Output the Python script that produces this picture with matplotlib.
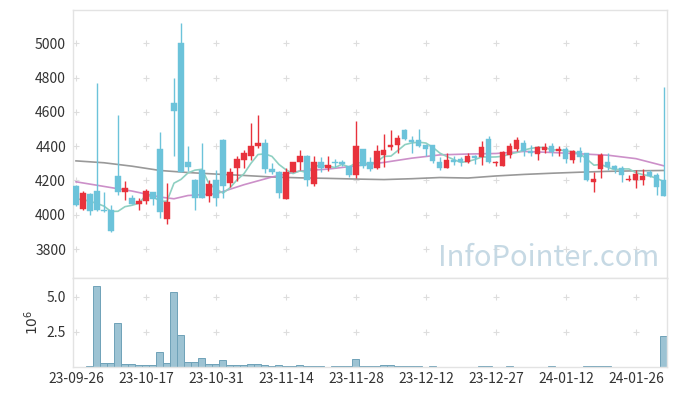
import matplotlib
matplotlib.use("Agg")
import matplotlib.pyplot as plt
import numpy as np

plt.rcParams["font.family"] = ["Noto Sans CJK KR", "DejaVu Sans"]

# daily OHLC, 85 trading days (23-09-26 .. 24-01-29)
OPEN = [4169, 4033, 4122, 4140, 4030, 4025, 4227, 4133, 4099, 4060,
        4078, 4132, 4384, 3977, 4651, 5000, 4307, 4204, 4262, 4110,
        4204, 4437, 4185, 4275, 4320, 4340, 4400, 4418, 4268, 4252,
        4091, 4250, 4305, 4345, 4178, 4307, 4270, 4307, 4310, 4282,
        4229, 4384, 4307, 4270, 4350, 4397, 4404, 4495, 4437, 4437,
        4404, 4404, 4305, 4275, 4318, 4324, 4305, 4344, 4336, 4441,
        4301, 4287, 4350, 4385, 4421, 4369, 4355, 4378, 4402, 4370,
        4383, 4320, 4369, 4359, 4188, 4268, 4310, 4285, 4272, 4200,
        4204, 4204, 4252, 4233, 4204]
HIGH = [4175, 4140, 4125, 4768, 4132, 4055, 4582, 4195, 4115, 4100,
        4150, 4135, 4485, 4184, 4796, 5117, 4400, 4206, 4418, 4204,
        4262, 4440, 4273, 4344, 4378, 4536, 4582, 4441, 4300, 4256,
        4270, 4310, 4376, 4348, 4340, 4338, 4342, 4324, 4320, 4287,
        4546, 4386, 4339, 4408, 4472, 4495, 4466, 4497, 4460, 4499,
        4408, 4406, 4335, 4361, 4340, 4336, 4359, 4348, 4427, 4460,
        4312, 4374, 4416, 4453, 4433, 4408, 4402, 4418, 4418, 4402,
        4394, 4378, 4396, 4362, 4250, 4358, 4361, 4291, 4286, 4233,
        4260, 4266, 4262, 4241, 4744]
LOW = [4052, 4030, 4000, 4020, 4013, 3900, 4114, 4085, 4062, 4030,
       4064, 4058, 3980, 3946, 4340, 4250, 4255, 4029, 4095, 4077,
       4049, 4097, 4161, 4195, 4272, 4320, 4392, 4243, 4240, 4097,
       4091, 4248, 4260, 4165, 4165, 4252, 4254, 4281, 4287, 4219,
       4214, 4270, 4255, 4268, 4276, 4378, 4360, 4437, 4360, 4396,
       4340, 4301, 4258, 4273, 4289, 4282, 4303, 4298, 4291, 4303,
       4287, 4285, 4330, 4369, 4340, 4344, 4320, 4361, 4344, 4344,
       4303, 4301, 4308, 4198, 4130, 4212, 4259, 4243, 4190, 4198,
       4155, 4171, 4222, 4116, 4108]
CLOSE = [4058, 4126, 4019, 4025, 4022, 3903, 4130, 4155, 4064, 4081,
         4138, 4093, 4013, 4072, 4602, 4252, 4281, 4095, 4097, 4180,
         4095, 4165, 4250, 4325, 4360, 4402, 4418, 4268, 4250, 4126,
         4250, 4307, 4345, 4204, 4308, 4270, 4292, 4301, 4297, 4229,
         4398, 4283, 4268, 4373, 4378, 4409, 4447, 4439, 4424, 4398,
         4384, 4316, 4275, 4320, 4310, 4305, 4344, 4330, 4395, 4305,
         4310, 4363, 4402, 4437, 4374, 4359, 4394, 4394, 4363, 4383,
         4326, 4369, 4339, 4200, 4210, 4349, 4281, 4268, 4229, 4210,
         4239, 4223, 4223, 4163, 4110]
# volume in millions of shares
VOLUME = [0.01, 0.01, 0.07, 5.76, 0.28, 0.28, 3.10, 0.21, 0.21, 0.14,
          0.14, 0.14, 1.06, 0.28, 5.31, 2.27, 0.35, 0.35, 0.64, 0.21,
          0.21, 0.52, 0.14, 0.14, 0.14, 0.21, 0.21, 0.14, 0.07, 0.14,
          0.07, 0.07, 0.14, 0.07, 0.07, 0.07, 0.01, 0.04, 0.04, 0.04,
          0.57, 0.04, 0.04, 0.04, 0.14, 0.14, 0.04, 0.04, 0.04, 0.04,
          0.01, 0.04, 0.01, 0.01, 0.01, 0.01, 0.01, 0.01, 0.04, 0.04,
          0.01, 0.01, 0.04, 0.01, 0.01, 0.01, 0.01, 0.01, 0.04, 0.01,
          0.01, 0.01, 0.01, 0.04, 0.04, 0.04, 0.04, 0.01, 0.01, 0.01,
          0.01, 0.01, 0.01, 0.01, 2.22]

# moving averages
MA5 = [4092, 4088, 4078, 4066, 4050, 4019, 4020, 4047, 4055, 4067,
       4114, 4106, 4078, 4079, 4184, 4206, 4244, 4260, 4265, 4181,
       4150, 4126, 4157, 4203, 4239, 4300, 4351, 4355, 4340, 4293,
       4262, 4240, 4256, 4246, 4283, 4287, 4284, 4275, 4294, 4278,
       4303, 4302, 4295, 4310, 4340, 4342, 4375, 4409, 4419, 4423,
       4418, 4392, 4359, 4339, 4321, 4305, 4311, 4322, 4337, 4336,
       4337, 4341, 4355, 4363, 4377, 4387, 4393, 4392, 4377, 4379,
       4372, 4367, 4356, 4323, 4289, 4293, 4276, 4262, 4267, 4267,
       4245, 4234, 4225, 4212, 4192]
MA20_DAY = [0, 4, 8, 12, 14, 16, 20, 24, 28, 32, 36, 40, 44, 48, 52, 56, 60, 64, 68, 72, 76, 80, 84]
MA20 = [4192, 4165, 4138, 4103, 4093, 4112, 4122, 4175, 4220, 4255, 4266, 4285,
        4305, 4330, 4349, 4354, 4357, 4369, 4363, 4355, 4347, 4327, 4285]
MA60_DAY = [0, 4, 8, 12, 16, 20, 24, 28, 32, 36, 40, 44, 48, 52, 56, 60, 64, 68, 72, 76, 80, 84]
MA60 = [4314, 4303, 4283, 4258, 4246, 4237, 4229, 4220, 4215, 4212, 4208, 4205,
        4210, 4217, 4214, 4226, 4235, 4242, 4248, 4253, 4256, 4258]

TICK_DAY = [0, 10, 20, 30, 40, 50, 60, 70, 80]
TICK_LABEL = ["23-09-26", "23-10-17", "23-10-31", "23-11-14", "23-11-28",
              "23-12-12", "23-12-27", "24-01-12", "24-01-26"]
PRICE_TICKS = [3800, 4000, 4200, 4400, 4600, 4800, 5000]
VOL_TICKS = [2.5, 5.0]

UP, DOWN = "#e8323c", "#6cc3da"
SPINE = "#e3e3e3"

fig = plt.figure(figsize=(6.77, 3.96), dpi=100)
ax = fig.add_axes([0.1078, 0.298, 0.8774, 0.6768])
axv = fig.add_axes([0.1078, 0.0732, 0.8774, 0.2248], sharex=ax)

x = np.arange(len(CLOSE))
o, h, l, c = map(np.array, (OPEN, HIGH, LOW, CLOSE))
col = np.where(c >= o, UP, DOWN)

# moving averages behind candles
ax.plot(MA60_DAY, MA60, color="#999999", lw=1.2, zorder=1)
ax.plot(MA20_DAY, MA20, color="#c784c3", lw=1.2, alpha=0.9, zorder=1)
ax.plot(x, MA5, color="#8fd0c2", lw=1.2, zorder=1)

ax.vlines(x, l, h, colors=col, lw=1.0, zorder=2)
body_lo = np.minimum(o, c)
body_h = np.maximum(np.abs(c - o), 4)
ax.bar(x, body_h, bottom=body_lo, width=0.72, color=col, edgecolor=col, lw=0.3, zorder=3)

ax.set_xlim(-0.43, 84.43)
ax.set_ylim(3631, 5194)
ax.set_yticks(PRICE_TICKS)
ax.set_yticklabels([str(v) for v in PRICE_TICKS])
ax.tick_params(axis="y", length=0, labelsize=10, colors="#333333", pad=5)
ax.tick_params(axis="x", length=0, labelbottom=False)

axv.bar(x, VOLUME, width=1.0, color="#9dc3d3", edgecolor="#6fa2b8", lw=0.7, zorder=2)
axv.set_ylim(0, 6.32)
axv.set_yticks(VOL_TICKS)
axv.set_yticklabels([f"{v:.1f}" for v in VOL_TICKS])
axv.set_xticks(TICK_DAY)
axv.set_xticklabels(TICK_LABEL)
axv.tick_params(length=0, labelsize=10, colors="#333333")
axv.tick_params(axis="y", pad=5)
axv.set_ylabel(r"$10^6$", fontsize=10, color="#333333", labelpad=4)

# faint "+" marks at grid crossings
gx, gy = np.meshgrid(TICK_DAY, PRICE_TICKS)
ax.scatter(gx.ravel(), gy.ravel(), marker="+", s=18, color="#dddddd", lw=0.8, zorder=0)
gx, gy = np.meshgrid(TICK_DAY, VOL_TICKS)
axv.scatter(gx.ravel(), gy.ravel(), marker="+", s=18, color="#dddddd", lw=0.8, zorder=0)

for a in (ax, axv):
    for s in a.spines.values():
        s.set_color(SPINE)
        s.set_linewidth(1.0)

ax.text(0.9865, 0.043, "InfoPointer.com", transform=ax.transAxes, ha="right", va="baseline",
        fontsize=21, color="#c6d9e4", zorder=0)

fig.savefig("out.png", dpi=100)
